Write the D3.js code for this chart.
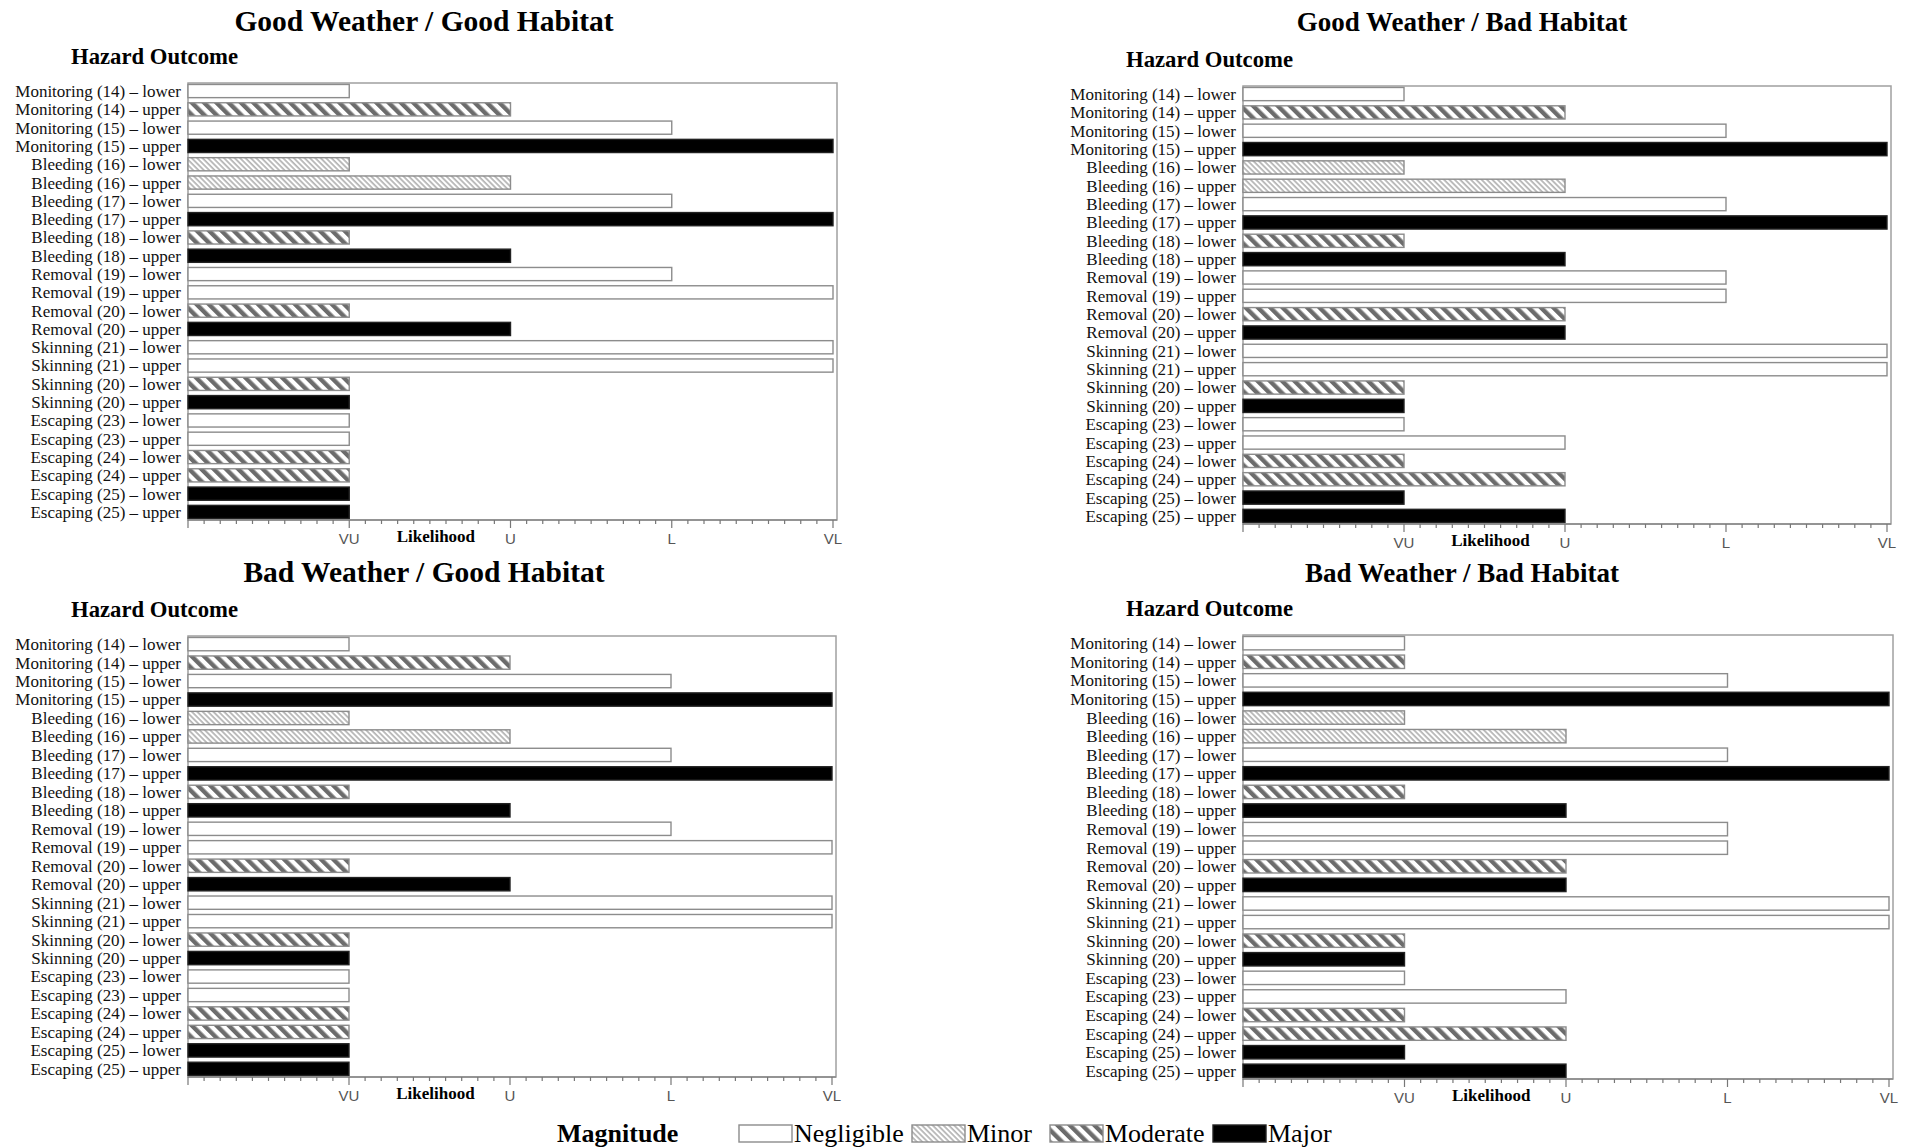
<!DOCTYPE html>
<html>
<head>
<meta charset="utf-8">
<script src="https://cdn.jsdelivr.net/npm/d3@7"></script>
<style>
  body { margin: 0; background: #fff; }
  svg { display: block; }
</style>
</head>
<body>
<div id="chart"></div>
<script>
// rows are the same in every panel
const rowLabels = [
  "Monitoring (14) – lower", "Monitoring (14) – upper",
  "Monitoring (15) – lower", "Monitoring (15) – upper",
  "Bleeding (16) – lower", "Bleeding (16) – upper",
  "Bleeding (17) – lower", "Bleeding (17) – upper",
  "Bleeding (18) – lower", "Bleeding (18) – upper",
  "Removal (19) – lower", "Removal (19) – upper",
  "Removal (20) – lower", "Removal (20) – upper",
  "Skinning (21) – lower", "Skinning (21) – upper",
  "Skinning (20) – lower", "Skinning (20) – upper",
  "Escaping (23) – lower", "Escaping (23) – upper",
  "Escaping (24) – lower", "Escaping (24) – upper",
  "Escaping (25) – lower", "Escaping (25) – upper"
];

const magnitudes = ["Negligible", "Minor", "Moderate", "Major"];

// magnitude of each row (same in all four panels)
const rowMagnitude = [
  "Negligible", "Moderate", "Negligible", "Major",
  "Minor", "Minor", "Negligible", "Major",
  "Moderate", "Major", "Negligible", "Negligible",
  "Moderate", "Major", "Negligible", "Negligible",
  "Moderate", "Major", "Negligible", "Negligible",
  "Moderate", "Moderate", "Major", "Major"
];

// likelihood levels: 1 = VU, 2 = U, 3 = L, 4 = VL
const tickLabels = ["VU", "U", "L", "VL"];

const goodWeatherGoodHabitat = [1, 2, 3, 4, 1, 2, 3, 4, 1, 2, 3, 4, 1, 2, 4, 4, 1, 1, 1, 1, 1, 1, 1, 1];
const goodWeatherBadHabitat  = [1, 2, 3, 4, 1, 2, 3, 4, 1, 2, 3, 3, 2, 2, 4, 4, 1, 1, 1, 2, 1, 2, 1, 2];
const badWeatherGoodHabitat  = [1, 2, 3, 4, 1, 2, 3, 4, 1, 2, 3, 4, 1, 2, 4, 4, 1, 1, 1, 1, 1, 1, 1, 1];
const badWeatherBadHabitat   = [1, 1, 3, 4, 1, 2, 3, 4, 1, 2, 3, 3, 2, 2, 4, 4, 1, 1, 1, 2, 1, 2, 1, 2];

const panelTitles = [
  "Good Weather / Good Habitat", "Good Weather / Bad Habitat",
  "Bad Weather / Good Habitat", "Bad Weather / Bad Habitat"
];

const W = 1910, H = 1148;
const serif = "'Liberation Serif', 'Times New Roman', serif";
const narrow = "'Liberation Sans Narrow', 'Arial Narrow', 'Liberation Sans', sans-serif";

const panels = [
  { title: panelTitles[0], values: goodWeatherGoodHabitat, titleX: 424, titleY: 31, titleSize: 29.5,
    left: 188, top: 83, right: 837, bottom: 520 },
  { title: panelTitles[1], values: goodWeatherBadHabitat, titleX: 1462, titleY: 31, titleSize: 27,
    left: 1243, top: 86, right: 1891, bottom: 524 },
  { title: panelTitles[2], values: badWeatherGoodHabitat, titleX: 424, titleY: 582, titleSize: 29.5,
    left: 188, top: 636, right: 836, bottom: 1077 },
  { title: panelTitles[3], values: badWeatherBadHabitat, titleX: 1462, titleY: 582, titleSize: 27,
    left: 1243, top: 635, right: 1893, bottom: 1079 }
];

const svg = d3.select("#chart").append("svg")
  .attr("width", W)
  .attr("height", H);

// hatch patterns
const defs = svg.append("defs");

const minorPat = defs.append("pattern")
  .attr("id", "hatch-minor")
  .attr("patternUnits", "userSpaceOnUse")
  .attr("width", 3.8).attr("height", 10)
  .attr("patternTransform", "rotate(-45)");
minorPat.append("rect").attr("width", 3.8).attr("height", 10).attr("fill", "#fff");
minorPat.append("line")
  .attr("x1", 1).attr("x2", 1).attr("y1", 0).attr("y2", 10)
  .attr("stroke", "#8a8a8a").attr("stroke-width", 1.1);

const modPat = defs.append("pattern")
  .attr("id", "hatch-moderate")
  .attr("patternUnits", "userSpaceOnUse")
  .attr("width", 8.7).attr("height", 10)
  .attr("patternTransform", "rotate(-45)");
modPat.append("rect").attr("width", 8.7).attr("height", 10).attr("fill", "#fff");
modPat.append("rect").attr("width", 4.4).attr("height", 10).attr("fill", "#6c6c6c");

const fillFor = d3.scaleOrdinal()
  .domain(magnitudes)
  .range(["#fff", "url(#hatch-minor)", "url(#hatch-moderate)", "#000"]);

panels.forEach((p) => {
  const g = svg.append("g");

  const x = d3.scaleLinear()
    .domain([0, 4])
    .range([p.left, p.right - 4]);

  const y = d3.scaleBand()
    .domain(rowLabels)
    .range([p.top, p.bottom])
    .paddingInner(0.28)
    .paddingOuter(0.08);

  g.append("text")
    .attr("x", p.titleX)
    .attr("y", p.titleY)
    .attr("text-anchor", "middle")
    .attr("font-family", serif)
    .attr("font-weight", "bold")
    .attr("font-size", p.titleSize)
    .text(p.title);

  g.append("text")
    .attr("x", p.left - 117)
    .attr("y", p.top - 19)
    .attr("font-family", serif)
    .attr("font-weight", "bold")
    .attr("font-size", 22.7)
    .text("Hazard Outcome");

  // frame
  g.append("rect")
    .attr("x", p.left)
    .attr("y", p.top)
    .attr("width", p.right - p.left)
    .attr("height", p.bottom - p.top)
    .attr("fill", "none")
    .attr("stroke", "#a0a0a0")
    .attr("stroke-width", 1.5);

  // row labels
  g.selectAll(".row-label")
    .data(rowLabels)
    .join("text")
    .attr("class", "row-label")
    .attr("x", p.left - 7)
    .attr("y", (d) => y(d) + y.bandwidth() / 2)
    .attr("dy", "0.35em")
    .attr("text-anchor", "end")
    .attr("font-family", serif)
    .attr("font-size", 17)
    .attr("fill", "#111")
    .text((d) => d);

  // bars
  g.selectAll(".bar")
    .data(rowLabels.map((label, i) => ({ label, level: p.values[i], mag: rowMagnitude[i] })))
    .join("rect")
    .attr("class", "bar")
    .attr("x", x(0))
    .attr("y", (d) => y(d.label))
    .attr("width", (d) => x(d.level) - x(0))
    .attr("height", y.bandwidth())
    .attr("fill", (d) => fillFor(d.mag))
    .attr("stroke", (d) => (d.mag === "Major" ? "#222" : "#8c8c8c"))
    .attr("stroke-width", 1.4);

  // x axis: minor ticks every 0.1, major at each level
  const axis = g.append("g").attr("transform", `translate(0,${p.bottom})`);
  axis.append("line")
    .attr("x1", p.left).attr("x2", p.right)
    .attr("stroke", "#888").attr("stroke-width", 1.5);

  axis.selectAll(".minor")
    .data(d3.range(0, 41).map((i) => i / 10))
    .join("line")
    .attr("class", "minor")
    .attr("x1", (d) => x(d)).attr("x2", (d) => x(d))
    .attr("y1", 0)
    .attr("y2", (d) => (Number.isInteger(d) ? 8 : 4))
    .attr("stroke", "#777")
    .attr("stroke-width", 1.2);

  axis.selectAll(".tick-label")
    .data(tickLabels)
    .join("text")
    .attr("class", "tick-label")
    .attr("x", (d, i) => x(i + 1))
    .attr("y", 24)
    .attr("text-anchor", "middle")
    .attr("font-family", narrow)
    .attr("font-size", 15)
    .attr("fill", "#555")
    .text((d) => d);

  axis.append("text")
    .attr("x", (x(1) + x(2)) / 2 + 6)
    .attr("y", 22)
    .attr("text-anchor", "middle")
    .attr("font-family", serif)
    .attr("font-weight", "bold")
    .attr("font-size", 17)
    .text("Likelihood");
});

// legend
const legend = svg.append("g").attr("transform", "translate(0,1133)");
legend.append("text")
  .attr("x", 557)
  .attr("y", 9)
  .attr("font-family", serif)
  .attr("font-weight", "bold")
  .attr("font-size", 26)
  .text("Magnitude");

const item = legend.selectAll(".item")
  .data(magnitudes)
  .join("g")
  .attr("class", "item")
  .attr("transform", (d, i) => `translate(${[739, 912, 1050, 1213][i]},0)`);

item.append("rect")
  .attr("x", 0).attr("y", -8)
  .attr("width", 53).attr("height", 17)
  .attr("fill", (d) => fillFor(d))
  .attr("stroke", (d) => (d === "Major" ? "#222" : "#8c8c8c"))
  .attr("stroke-width", 1.4);

item.append("text")
  .attr("x", 55)
  .attr("y", 9)
  .attr("font-family", serif)
  .attr("font-size", 26)
  .text((d) => d);
</script>
</body>
</html>
